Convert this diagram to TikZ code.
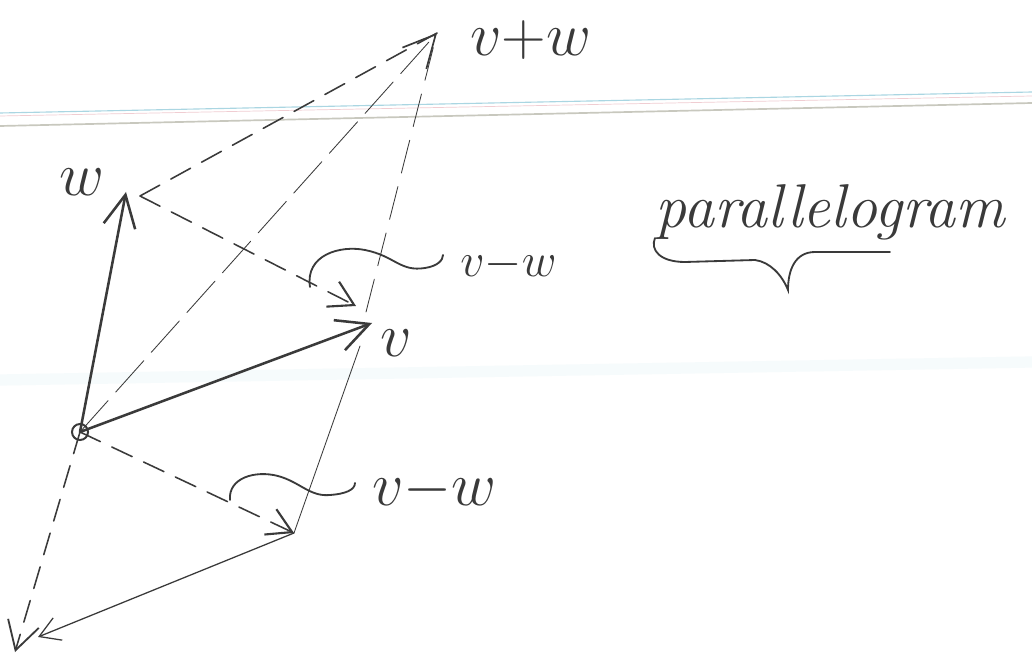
\RequirePackage{fix-cm}
\documentclass[tikz,border=0pt]{standalone}
\usepackage{amsmath}
\usepackage{xcolor}
\usepackage{tikz}
\usetikzlibrary{arrows.meta}
\definecolor{penGray}{RGB}{58,58,58}
\definecolor{ruleBlue}{RGB}{170,214,226}
\definecolor{rulePink}{RGB}{240,205,210}
\definecolor{ruleGray}{RGB}{200,200,190}
\definecolor{ruleFaint}{RGB}{246,251,252}

\begin{document}
\begin{tikzpicture}[x=0.025cm,y=-0.025cm,
  hand/.style={text=penGray, font=\fontsize{44}{50}\selectfont, inner sep=0pt},
  vecline/.style={penGray, line width=1.8pt, line cap=round, -{Straight Barb[length=8mm,width=8mm]}},
  dashline/.style={penGray, line width=1.1pt, line cap=round, dash pattern=on 16pt off 9pt},
  thinline/.style={penGray, line width=0.6pt, line cap=round},
  curlline/.style={penGray, line width=1.3pt, line cap=round}]
\useasboundingbox (0,0) rectangle (1032,655);
\fill[white] (0,0) rectangle (1032,655);
\draw[ruleFaint, line width=8pt] (0,380) -- (1032,362);
\draw[ruleBlue, line width=0.8pt] (0,113) -- (1032,92);
\draw[rulePink, line width=0.5pt] (0,116) -- (1032,96);
\draw[ruleGray, line width=1.2pt] (0,126) -- (1032,103);
\coordinate (O) at (80,432);
\coordinate (w) at (126,192);
\coordinate (wfoot) at (140,196);
\coordinate (v) at (372,323);
\coordinate (vtop) at (366,312);
\coordinate (vfoot) at (360,346);
\coordinate (vpw) at (437,33);
\coordinate (vw) at (356,306);
\coordinate (d) at (294,533);
\coordinate (mw) at (15,652);
\coordinate (mv) at (38,637);
\draw[penGray, line width=1.4pt] (O) circle (8);
\draw[thinline, dash pattern=on 30pt off 8pt, -{Straight Barb[length=8mm,width=8mm,line width=1.2pt]}] (O) -- (vpw);
\draw[thinline, dash pattern=on 24pt off 10pt] (vtop) -- (vpw);
\draw[dashline] (wfoot) -- (vpw);
\draw[dashline, -{Straight Barb[length=6mm,width=7mm,line width=1.5pt]}] (wfoot) -- (vw);
\draw[vecline] (O) -- (w);
\draw[vecline] (O) -- (v);
\draw[thinline] (vfoot) -- (d);
\draw[dashline, -{Straight Barb[length=6mm,width=7mm,line width=1.5pt]}] (O) -- (d);
\draw[dashline, -{Straight Barb[length=7mm,width=8mm,line width=1.3pt]}] (O) -- (mw);
\draw[thinline, line width=0.9pt, -{Straight Barb[length=5mm,width=6mm]}] (d) -- (mv);
\node[hand] (lw) at (82,182) {$w$};
\node[hand] (lv) at (396,343) {$v$};
\node[hand, anchor=west] (lvpw) at (470,40) {$v{+}w$};
\node[hand, anchor=west, font=\fontsize{34}{40}\selectfont] (ldu) at (460,265) {$v{-}w$};
\node[hand, anchor=west] (ldl) at (372,490) {$v{-}w$};
\node[hand, anchor=base west] (lpar) at (655,228) {\itshape parallelogram};
\draw[curlline] (310,287) .. controls (305,255) and (340,245) .. (365,250)
  .. controls (395,256) and (400,272) .. (425,268) .. controls (438,266) and (443,260) .. (443,255);
\draw[curlline] (230,500) .. controls (228,478) and (255,470) .. (278,476)
  .. controls (300,482) and (310,497) .. (330,495) .. controls (345,494) and (355,490) .. (355,483);
\draw[curlline] (655,238) .. controls (650,250) and (660,262) .. (685,262) -- (755,260)
  .. controls (770,262) and (782,275) .. (788,290) .. controls (788,270) and (795,252) .. (815,252) -- (890,252);
\end{tikzpicture}
\end{document}
